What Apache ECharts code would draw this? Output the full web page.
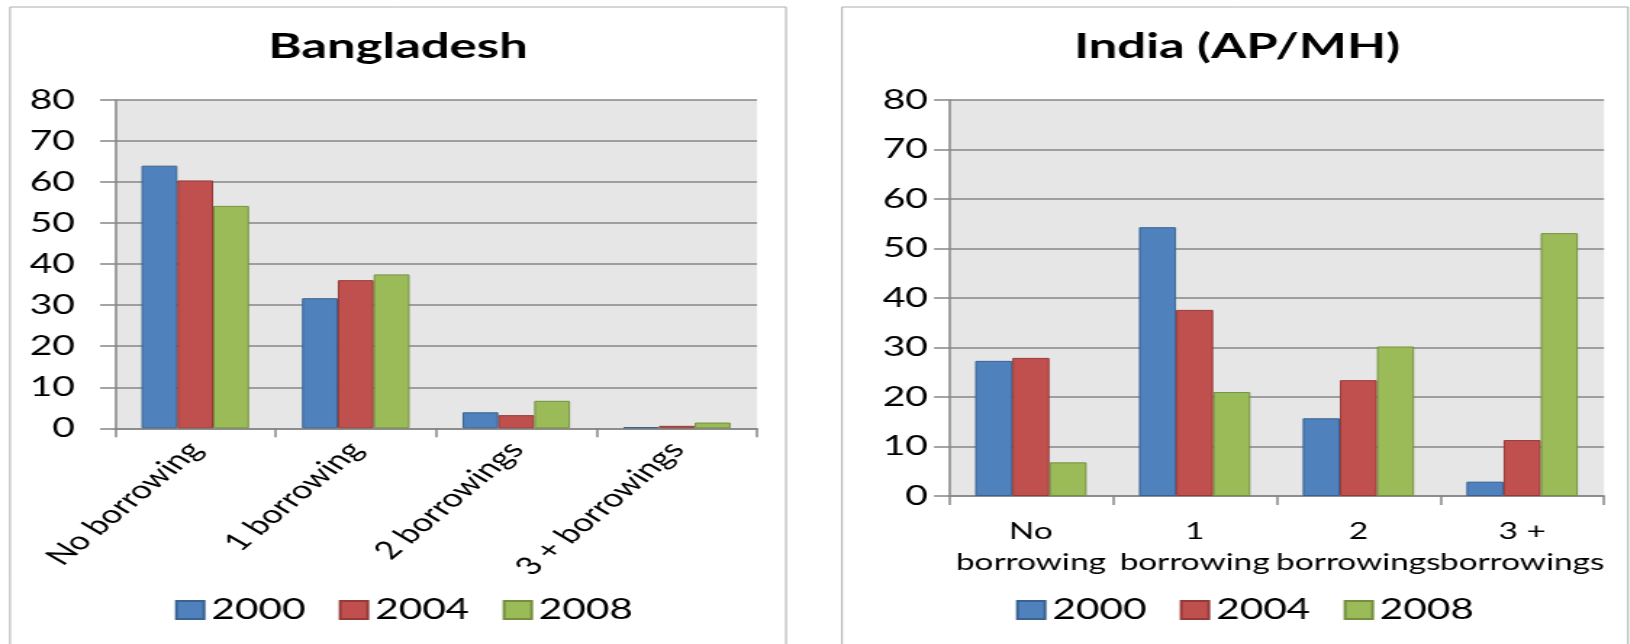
<!DOCTYPE html>
<html>
<head>
<meta charset="utf-8">
<title>Borrowing frequency: Bangladesh and India (AP/MH)</title>
<script src="https://cdn.jsdelivr.net/npm/echarts/dist/echarts.min.js"></script>
<style>
  html, body { margin: 0; padding: 0; background: #ffffff; overflow: hidden; }
  #wrap { position: relative; width: 1630px; height: 644px; overflow: hidden; }
  #chart { position: absolute; left: 0; top: 0; height: 644px; transform-origin: 0 0; }
</style>
</head>
<body>
<div id="wrap"><div id="chart"></div></div>
<script>
// Survey years and borrowing categories
const years = ['2000', '2004', '2008'];
const bdCategories = ['No borrowing', '1 borrowing', '2 borrowings', '3 + borrowings'];
const inCategories = ['No\nborrowing', '1\nborrowing', '2\nborrowings', '3 +\nborrowings'];
const yTicks = [0, 10, 20, 30, 40, 50, 60, 70, 80];

// Share of households (%) by number of borrowings
const bangladesh2000 = [64.0, 31.7, 3.9, 0.3];
const bangladesh2004 = [60.4, 36.1, 3.2, 0.6];
const bangladesh2008 = [54.2, 37.5, 6.7, 1.4];
const india2000 = [27.3, 54.3, 15.7, 2.9];
const india2004 = [27.9, 37.6, 23.4, 11.3];
const india2008 = [6.8, 21.0, 30.2, 53.1];

const fills = ['#4F81BD', '#C0504D', '#9BBB59'];
const edges = ['#3A6291', '#943B39', '#74903F'];

// The whole figure is drawn on a narrower canvas and widened with CSS,
// giving the broad, stretched lettering of the original slide.
const STRETCH = 1.45;
const W = 1630 / STRETCH;
const px = v => v / STRETCH;

const el = document.getElementById('chart');
el.style.width = W + 'px';
el.style.transform = 'scaleX(' + STRETCH + ')';

const FONT = 'Lato, "Open Sans", sans-serif';
const GRID_LINE = '#868686';

function valueAxis(gridIndex, labelGap) {
  return {
    type: 'value', gridIndex, min: yTicks[0], max: yTicks[yTicks.length - 1], interval: 10,
    axisLine: { show: true, lineStyle: { color: GRID_LINE, width: 1.5 } },
    axisTick: { show: true, length: px(15), lineStyle: { color: GRID_LINE, width: 1.5 } },
    splitLine: { show: true, lineStyle: { color: GRID_LINE, width: 1.6 } },
    axisLabel: { color: '#000', fontFamily: FONT, fontSize: 27, margin: labelGap }
  };
}

const bdSeries = [bangladesh2000, bangladesh2004, bangladesh2008];
const inSeries = [india2000, india2004, india2008];
const series = [];
years.forEach((y, i) => {
  const style = { color: fills[i], borderColor: edges[i], borderWidth: 1 };
  series.push({ name: y, type: 'bar', xAxisIndex: 0, yAxisIndex: 0, data: bdSeries[i],
    barGap: '0%', barCategoryGap: '33%', itemStyle: style });
  series.push({ name: y, type: 'bar', xAxisIndex: 1, yAxisIndex: 1, data: inSeries[i],
    barGap: '0%', barCategoryGap: '32%', itemStyle: style });
});

function legendAt(x) {
  return {
    left: px(x), top: 596, orient: 'horizontal', padding: 0,
    itemWidth: 19, itemHeight: 18, itemGap: 23, icon: 'rect',
    data: years, selectedMode: false,
    textStyle: { fontFamily: FONT, fontSize: 28, color: '#000' }
  };
}

const chart = echarts.init(el, null, { renderer: 'canvas' });
chart.setOption({
  animation: false,
  backgroundColor: '#ffffff',
  grid: [
    { left: px(115), top: 100, width: px(757 - 115), height: 328.3,
      show: true, backgroundColor: '#E6E6E6', borderWidth: 0, containLabel: false },
    { left: px(949), top: 100, width: px(1604 - 949), height: 396,
      show: true, backgroundColor: '#E6E6E6', borderWidth: 0, containLabel: false }
  ],
  xAxis: [
    { type: 'category', gridIndex: 0, data: bdCategories,
      axisLine: { show: true, lineStyle: { color: GRID_LINE, width: 1.5 } },
      axisTick: { show: true, length: 9, lineStyle: { color: GRID_LINE, width: 1.5 } },
      axisLabel: { interval: 0, rotate: 50, margin: 17, color: '#000', fontFamily: FONT, fontSize: 25 } },
    { type: 'category', gridIndex: 1, data: inCategories,
      axisLine: { show: true, lineStyle: { color: GRID_LINE, width: 1.5 } },
      axisTick: { show: true, length: 9, lineStyle: { color: GRID_LINE, width: 1.5 } },
      axisLabel: { interval: 0, margin: 20, color: '#000', fontFamily: FONT, fontSize: 23, lineHeight: 31 } }
  ],
  yAxis: [valueAxis(0, px(40)), valueAxis(1, px(21))],
  legend: [legendAt(175), legendAt(1016)],
  series,
  graphic: [
    { type: 'rect', silent: true, z: -1,
      shape: { x: px(10), y: 7, width: px(786 - 10), height: 700 },
      style: { fill: 'none', stroke: '#ADADAD', lineWidth: 1 } },
    { type: 'rect', silent: true, z: -1,
      shape: { x: px(842), y: 7, width: px(1628 - 842), height: 700 },
      style: { fill: 'none', stroke: '#ADADAD', lineWidth: 1 } },
    { type: 'text', x: px(398), y: 47,
      style: { text: 'Bangladesh', fill: '#000', font: 'bold 35px ' + FONT, align: 'center', verticalAlign: 'middle' } },
    { type: 'text', x: px(1237), y: 47,
      style: { text: 'India (AP/MH)', fill: '#000', font: 'bold 35px ' + FONT, align: 'center', verticalAlign: 'middle' } }
  ]
});
</script>
</body>
</html>
